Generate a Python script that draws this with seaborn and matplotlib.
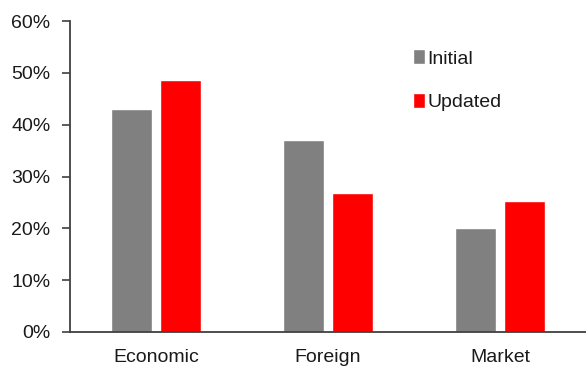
import matplotlib
matplotlib.use("Agg")
import matplotlib.pyplot as plt
import seaborn as sns
import pandas as pd
from matplotlib.ticker import PercentFormatter

categories = ["Economic", "Foreign", "Market"]
initial = [43.0, 37.0, 20.0]
updated = [48.6, 26.9, 25.3]
series_names = ["Initial", "Updated"]
yticks = [0, 10, 20, 30, 40, 50, 60]

df = pd.DataFrame({
    "category": categories * 2,
    "value": initial + updated,
    "series": [series_names[0]] * 3 + [series_names[1]] * 3,
})

sns.set_style("white")
plt.rcParams['font.family'] = ['Liberation Sans', 'DejaVu Sans']

fig = plt.figure(figsize=(5.86, 3.69), dpi=100)
ax = fig.add_axes([70/586, 1 - 332/369, 1 - 70/586, (332 - 21)/369])

sns.barplot(data=df, x="category", y="value", hue="series",
            palette={"Initial": "#808080", "Updated": "#FF0000"},
            width=0.57, gap=0.18, ax=ax, saturation=1, legend=True)

ax.set_xlim(-0.5, 2.5)
ax.set_ylim(0, 60)
ax.set_yticks(yticks)
ax.yaxis.set_major_formatter(PercentFormatter(decimals=0))
ax.set_xlabel("")
ax.set_ylabel("")
for s in ["top", "right"]:
    ax.spines[s].set_visible(False)
for s in ["left", "bottom"]:
    ax.spines[s].set_color("#404040")
    ax.spines[s].set_linewidth(1.3)
ax.tick_params(axis="y", which="major", direction="out", length=6, width=1.2,
               color="#404040", left=True, labelsize=14, labelcolor="#1a1a1a", pad=8)
ax.tick_params(axis="x", length=0, labelsize=14, labelcolor="#1a1a1a", pad=12)

leg = ax.legend(loc="upper left", bbox_to_anchor=(0.63, 0.965), frameon=False,
                fontsize=14, handlelength=0.65, handleheight=0.8,
                handletextpad=0.12, labelspacing=1.3)
for t in leg.get_texts():
    t.set_color("#1a1a1a")

fig.savefig("out.png", dpi=100)
